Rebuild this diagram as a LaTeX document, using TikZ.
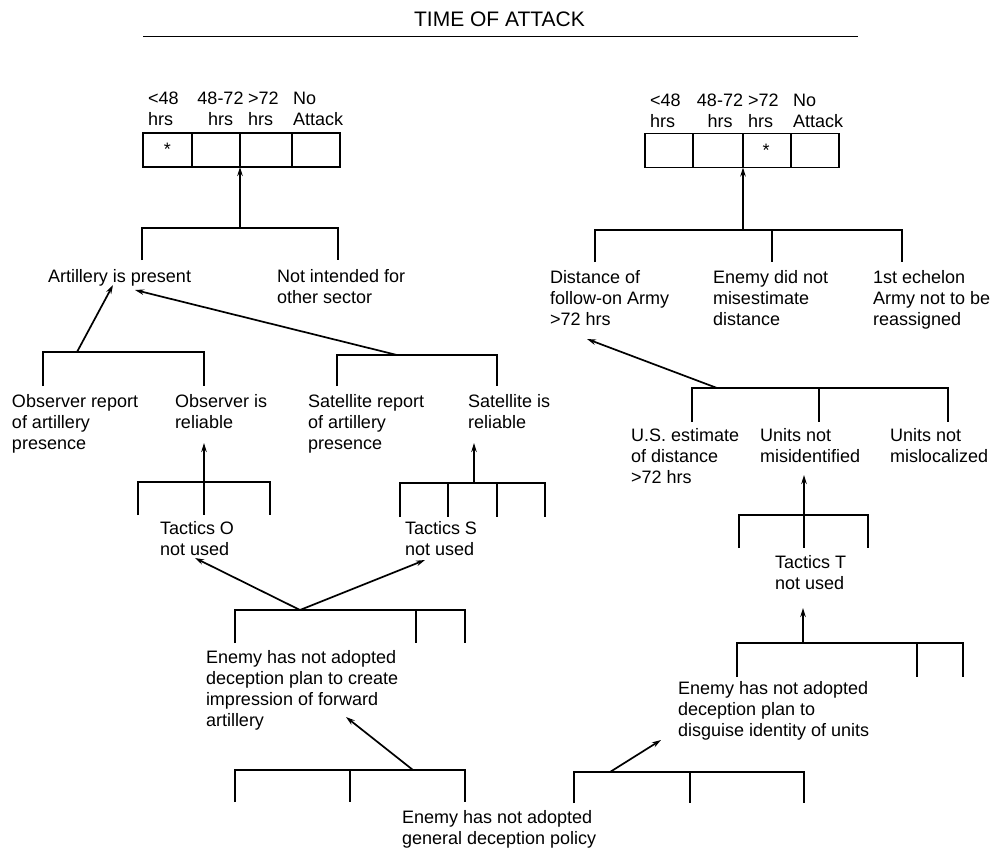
\documentclass[tikz,border=0pt]{standalone}
\usepackage{fontspec}
\setmainfont{Liberation Sans}
\usetikzlibrary{arrows.meta}
\begin{document}
\begin{tikzpicture}[x=1pt,y=-1pt,
  every node/.style={inner sep=0pt,outer sep=0pt},
  lbl/.style={font=\fontsize{18}{21}\selectfont,align=left,anchor=base west},
  clbl/.style={font=\fontsize{18}{21}\selectfont,align=center,anchor=base},
  % multi-line nodes sit on their last baseline: move them down so the
  % given point is the baseline of the first line
  two/.style={yshift=-21pt},
  three/.style={yshift=-42pt},
  four/.style={yshift=-63pt},
  ln/.style={line width=1.7pt},
  arr/.style={line width=1.7pt,-{Stealth[length=9pt,width=5.5pt]}},
  cell/.style={draw,line width=1.7pt,minimum height=34pt}]

\fill[white] (0,0) rectangle (990,847);
\useasboundingbox (0,0) rectangle (990,847);

% heading
\node[font=\fontsize{21}{24}\selectfont,anchor=base] (title) at (499.5,26.5) {TIME OF ATTACK};
\coordinate (ulA) at (143,36.5);
\coordinate (ulB) at (858,36.5);
\draw[ln] (ulA) -- (ulB);

% ---------- outcome boxes ----------
\node[cell,minimum width=49pt] (L1) at (167.5,150) {};
\node[cell,minimum width=48pt] (L2) at (216,150) {};
\node[cell,minimum width=52pt] (L3) at (266,150) {};
\node[cell,minimum width=48pt] (L4) at (316,150) {};
\node[clbl] (Ls) at (167.5,155) {*};
\node[lbl,two] (la1) at (148,104) {<48\\hrs};
\node[clbl,two] (la2) at (220.5,104) {48-72\\hrs};
\node[lbl,two] (la3) at (248,104) {>72\\hrs};
\node[lbl,two] (la4) at (293,104) {No\\Attack};

\node[cell,minimum width=48pt] (R1) at (669,150.5) {};
\node[cell,minimum width=50pt] (R2) at (718,150.5) {};
\node[cell,minimum width=48pt] (R3) at (767,150.5) {};
\node[cell,minimum width=48pt] (R4) at (815,150.5) {};
\node[clbl] (Rs) at (766,156) {*};
\node[lbl,two] (ra1) at (650,106) {<48\\hrs};
\node[clbl,two] (ra2) at (720,106) {48-72\\hrs};
\node[lbl,two] (ra3) at (748,106) {>72\\hrs};
\node[lbl,two] (ra4) at (793,106) {No\\Attack};

% ---------- left branch ----------
\draw[ln] (142,260) |- (338,228) -- (338,260);
\coordinate (jTopL) at (240,228);
\draw[arr] (jTopL) -- (L3.south west);
\node[lbl] (artP) at (48,282) {Artillery is present};
\node[lbl,two] (notInt) at (277,282) {Not intended for\\other sector};

\draw[ln] (43,386) |- (204,352) -- (204,386);
\draw[ln] (337,386) |- (497,355) -- (497,386);
\coordinate (jObs) at (77,352);
\coordinate (jSat) at (397,355);
\coordinate (tArt1) at (113,285);
\coordinate (tArt2) at (135,290);
\draw[arr] (jObs) -- (tArt1);
\draw[arr] (jSat) -- (tArt2);

\node[lbl,three] (obsRep) at (12,407) {Observer report\\of artillery\\presence};
\node[lbl,two] (obsRel) at (175,407) {Observer is\\reliable};
\node[lbl,three] (satRep) at (308,407) {Satellite report\\of artillery\\presence};
\node[lbl,two] (satRel) at (468,407) {Satellite is\\reliable};

\draw[ln] (138,515) |- (270,482) -- (270,515);
\draw[ln] (204,482) -- (204,515);
\coordinate (jTacO) at (204,482);
\coordinate (tObs) at (204,443);
\draw[arr] (jTacO) -- (tObs);
\node[lbl,two] (tacO) at (160,534) {Tactics O\\not used};

\draw[ln] (400,517) |- (545,483) -- (545,517);
\draw[ln] (448,483) -- (448,517);
\draw[ln] (497,483) -- (497,517);
\coordinate (jTacS) at (474,483);
\coordinate (tSat) at (474,443);
\draw[arr] (jTacS) -- (tSat);
\node[lbl,two] (tacS) at (405,534) {Tactics S\\not used};

\draw[ln] (235,643) |- (465,610) -- (465,643);
\draw[ln] (416,610) -- (416,643);
\coordinate (jPlanA) at (300,610);
\coordinate (tTacO) at (195,558);
\coordinate (tTacS) at (425,560);
\draw[arr] (jPlanA) -- (tTacO);
\draw[arr] (jPlanA) -- (tTacS);
\node[lbl,four] (planA) at (206,663) {Enemy has not adopted\\deception plan to create\\impression of forward\\artillery};

% ---------- right branch ----------
\draw[ln] (595,262) |- (902,230) -- (902,262);
\draw[ln] (772,230) -- (772,262);
\coordinate (jTopR) at (743,230);
\draw[arr] (jTopR) -- (R3.south west);
\node[lbl,three] (dist) at (550,283) {Distance of\\follow-on Army\\>72 hrs};
\node[lbl,three] (enemyDid) at (713,283) {Enemy did not\\misestimate\\distance};
\node[lbl,three] (echelon) at (873,283) {1st echelon\\Army not to be\\reassigned};

\draw[ln] (692,422) |- (948,388) -- (948,422);
\draw[ln] (819,388) -- (819,422);
\coordinate (jDist) at (717,388);
\coordinate (tDist) at (587,339);
\draw[arr] (jDist) -- (tDist);
\node[lbl,three] (usEst) at (631,441) {U.S. estimate\\of distance\\>72 hrs};
\node[lbl,two] (unitsId) at (760,441) {Units not\\misidentified};
\node[lbl,two] (unitsLoc) at (890,441) {Units not\\mislocalized};

\draw[ln] (739,548) |- (868,515) -- (868,548);
\draw[ln] (804,515) -- (804,548);
\coordinate (jTacT) at (804,515);
\coordinate (tUnits) at (804,475);
\draw[arr] (jTacT) -- (tUnits);
\node[lbl,two] (tacT) at (775,568) {Tactics T\\not used};

\draw[ln] (737,677) |- (963,643) -- (963,677);
\draw[ln] (917,643) -- (917,677);
\coordinate (jPlanU) at (803,643);
\coordinate (tTacT) at (803,608);
\draw[arr] (jPlanU) -- (tTacT);
\node[lbl,three] (planU) at (678,694) {Enemy has not adopted\\deception plan to\\disguise identity of units};

% ---------- general policy ----------
\draw[ln] (235,802) |- (465,770) -- (465,802);
\draw[ln] (350,770) -- (350,802);
\draw[ln] (574,803) |- (804,772) -- (804,803);
\draw[ln] (690,772) -- (690,803);
\coordinate (jPolL) at (413,770);
\coordinate (jPolR) at (610,772);
\coordinate (tPlanA) at (346,717);
\coordinate (tPlanU) at (661,740);
\draw[arr] (jPolL) -- (tPlanA);
\draw[arr] (jPolR) -- (tPlanU);
\node[lbl,two] (policy) at (402,823) {Enemy has not adopted\\general deception policy};
\end{tikzpicture}
\end{document}
